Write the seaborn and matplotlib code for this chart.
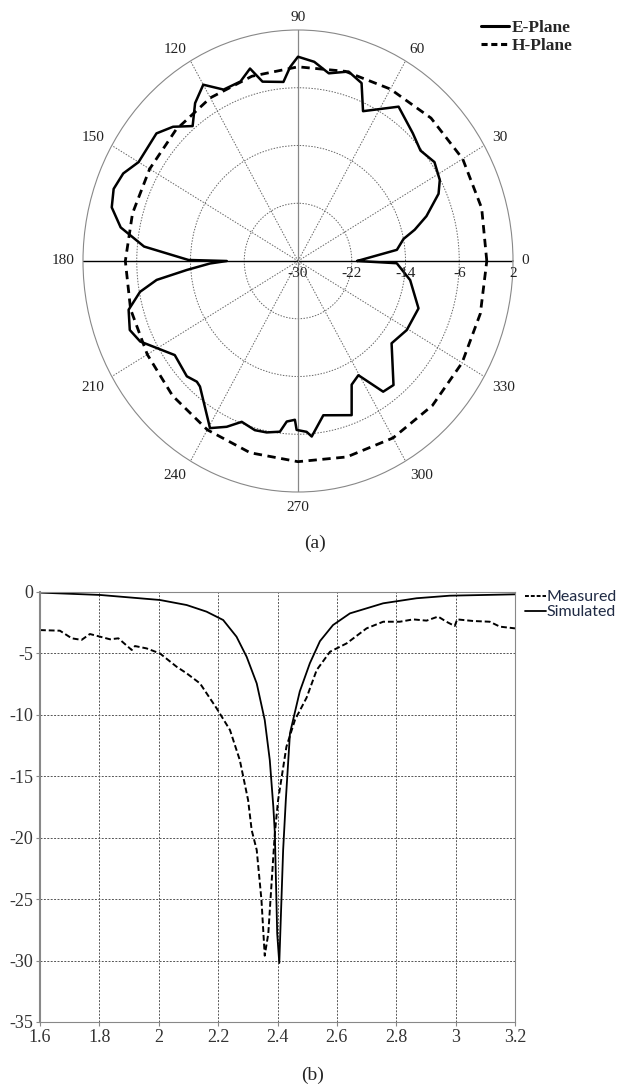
import numpy as np
import matplotlib
matplotlib.use('Agg')
import matplotlib.pyplot as plt
import matplotlib.transforms as mtransforms
from matplotlib.lines import Line2D
import seaborn as sns

# (a) radiation pattern, dB vs angle (deg)
e_theta = [0, 6, 11, 14, 18, 24, 28, 34, 40, 46, 55, 65, 69, 74, 80, 85, 90, 92.5,
           95, 102, 105, 109, 115, 120, 125, 130, 135, 140, 150, 155, 160, 165, 170,
           175, 179.5, 180, 181.5, 184.3, 187.1, 190.3, 195, 200.9, 205.4, 215.4,
           224, 228, 230, 240.5, 245.2, 249.4, 254.7, 258.9, 263.5, 265.7, 268.8,
           269.5, 273.1, 274.8, 280, 290.5, 295, 299.6, 305, 309.6, 320.7, 329.4,
           339.9, 351, 358.8, 360]
e_db = [-21.2, -15.2, -14.0, -12.1, -9.9, -7.1, -6.1, -5.5, -6.2, -5.4, -3.9, -7.1,
        -3.6, -2.7, -3.6, -2.3, -1.7, -3.1, -5.1, -4.6, -2.4, -3.7, -3.8, -1.8, -3.3,
        -5.6, -3.7, -2.5, -2.6, -1.3, -0.8, -1.3, -3.2, -7.0, -13.7, -19.4, -16.9,
        -13.4, -8.8, -6.1, -3.9, -3.2, -4.0, -7.5, -7.0, -7.5, -7.3, -3.4, -4.7,
        -6.2, -5.7, -5.8, -6.2, -7.7, -8.0, -6.6, -6.3, -5.6, -8.3, -7.2, -11.1,
        -11.8, -7.9, -7.7, -12.0, -11.2, -10.9, -13.1, -15.3, -21.2]

h_theta = list(range(0, 361, 15))
h_db = [-1.9, -1.7, -1.7, -2.0, -2.5, -2.8, -3.1, -3.5, -3.9, -4.3, -4.5, -4.5, -4.3,
        -4.2, -4.1, -3.6, -3.0, -2.5, -2.2, -1.9, -1.7, -1.7, -1.8, -1.9, -1.9]

angle_ticks = list(range(0, 360, 30))
ring_ticks = [-22, -14, -6]
radial_labels = ['-30', '-22', '-14', '-6', '2']
radial_vals = [-30, -22, -14, -6, 2]

# (b) return loss vs frequency (GHz)
meas_f = [1.6, 1.667, 1.707, 1.74, 1.768, 1.836, 1.864, 1.909, 1.92, 1.959, 2.004,
          2.06, 2.094, 2.139, 2.195, 2.24, 2.273, 2.301, 2.313, 2.33, 2.346, 2.357,
          2.369, 2.38, 2.391, 2.402, 2.43, 2.459, 2.498, 2.532, 2.577, 2.633, 2.7,
          2.756, 2.812, 2.857, 2.902, 2.941, 2.969, 2.997, 3.005, 3.059, 3.115,
          3.149, 3.2]
meas_db = [-3.1, -3.15, -3.77, -3.9, -3.42, -3.85, -3.77, -4.72, -4.4, -4.59, -5.0,
           -6.08, -6.62, -7.44, -9.47, -11.24, -13.68, -16.94, -19.38, -21.0, -25.08,
           -29.6, -27.8, -23.7, -19.65, -16.94, -12.6, -10.4, -8.6, -6.35, -4.86,
           -4.18, -2.96, -2.42, -2.42, -2.23, -2.33, -2.0, -2.42, -2.77, -2.23,
           -2.36, -2.42, -2.82, -2.96]
sim_f = [1.6, 1.802, 2.004, 2.094, 2.161, 2.217, 2.262, 2.296, 2.33, 2.357, 2.374,
         2.386, 2.391, 2.399, 2.406, 2.419, 2.428, 2.442, 2.475, 2.509, 2.543, 2.587,
         2.644, 2.756, 2.868, 2.98, 3.2]
sim_db = [-0.05, -0.24, -0.65, -1.06, -1.6, -2.28, -3.64, -5.27, -7.44, -10.42,
          -13.68, -17.5, -19.6, -27.8, -30.2, -21.0, -16.94, -11.5, -8.1, -5.8, -4.0,
          -2.69, -1.74, -0.92, -0.51, -0.3, -0.19]
x_ticks = [1.6, 1.8, 2.0, 2.2, 2.4, 2.6, 2.8, 3.0, 3.2]
x_labels = ['1.6', '1.8', '2', '2.2', '2.4', '2.6', '2.8', '3', '3.2']
y_ticks = [0, -5, -10, -15, -20, -25, -30, -35]

sns.set_style('white')
plt.rcParams['font.family'] = ['Liberation Serif', 'DejaVu Serif']
plt.rcParams['axes.unicode_minus'] = False

W, H = 617, 1090
fig = plt.figure(figsize=(W / 100, H / 100), dpi=100)

# ---- polar pattern ----
ax = fig.add_axes([83 / W, 1 - 492 / H, 430 / W, 462 / H], projection='polar')
sns.lineplot(x=np.deg2rad(h_theta), y=h_db, ax=ax, sort=False, estimator=None,
             color='k', lw=2.0, linestyle=(0, (3, 2)))
sns.lineplot(x=np.deg2rad(e_theta), y=e_db, ax=ax, sort=False, estimator=None,
             color='k', lw=1.8)
ax.set_aspect('auto')
ax.set_theta_zero_location('E')
ax.set_ylim(-30, 2)
ax.set_xticks(np.deg2rad(angle_ticks))
ax.set_xticklabels([])
ax.set_yticks(ring_ticks)
ax.set_yticklabels([])
ax.set_xlabel('')
ax.set_ylabel('')
ax.grid(True, ls=(0, (1.5, 1.5)), color='#666666', lw=0.7)
ax.spines['polar'].set_color('#888888')
ax.spines['polar'].set_linewidth(0.8)
ax.axvline(0, color='k', lw=1.0, zorder=1)
ax.axvline(np.pi, color='k', lw=1.0, zorder=1)
ax.axvline(np.pi / 2, color='#888888', lw=0.9, zorder=1)
ax.axvline(3 * np.pi / 2, color='#888888', lw=0.9, zorder=1)

for a in angle_ticks:
    c, s = np.cos(np.deg2rad(a)), np.sin(np.deg2rad(a))
    ha = 'left' if c > 0.1 else ('right' if c < -0.1 else 'center')
    va = 'baseline' if s > 0.1 else ('top' if s < -0.1 else 'center')
    ax.text(np.deg2rad(a), 3.3, str(a), ha=ha, va=va, fontsize=11,
            color='#222222', clip_on=False)

off = mtransforms.ScaledTranslation(0, -4 / 72, fig.dpi_scale_trans)
for v, lab in zip(radial_vals, radial_labels):
    ax.text(0, v, lab, ha='center', va='top', fontsize=11, color='#222222',
            transform=ax.transData + off, clip_on=False)

h1 = [Line2D([], [], color='k', lw=2.2),
      Line2D([], [], color='k', lw=2.2, linestyle=(0, (2, 1.2)))]
fig.legend(h1, ['E-Plane', 'H-Plane'], loc='upper left',
           bbox_to_anchor=(481 / W, 1 - 20 / H), frameon=False, borderpad=0,
           borderaxespad=0, handlelength=1.6, handletextpad=0.15,
           labelspacing=0.1, prop={'family': 'Liberation Serif',
                                   'weight': 'bold', 'size': 12.5})

fig.text(315 / W, 1 - 543 / H, '(a)', ha='center', va='center', fontsize=14)

# ---- return loss ----
ax2 = fig.add_axes([40 / W, 1 - 1022 / H, 475 / W, 430 / H])
sns.lineplot(x=meas_f, y=meas_db, ax=ax2, sort=False, estimator=None,
             color='k', lw=1.4, linestyle=(0, (3, 1.5)))
sns.lineplot(x=sim_f, y=sim_db, ax=ax2, sort=False, estimator=None,
             color='k', lw=1.3)
ax2.set_xlim(1.6, 3.2)
ax2.set_ylim(-35, 0)
ax2.set_xticks(x_ticks)
ax2.set_xticklabels(x_labels)
ax2.set_yticks(y_ticks)
ax2.set_yticklabels([str(v) for v in y_ticks])
ax2.set_xlabel('')
ax2.set_ylabel('')
ax2.grid(True, ls=(0, (2, 1.5)), color='#555555', lw=0.7)
for sp in ax2.spines.values():
    sp.set_visible(True)
    sp.set_color('#888888')
    sp.set_linewidth(0.8)
ax2.spines['left'].set_linewidth(1.5)
ax2.tick_params(direction='out', length=3, width=0.8, color='#888888',
                labelsize=13, labelcolor='#333333', pad=2,
                bottom=True, left=True)

h2 = [Line2D([], [], color='k', lw=1.4, linestyle=(0, (2, 1))),
      Line2D([], [], color='k', lw=1.3)]
fig.legend(h2, ['Measured', 'Simulated'], loc='upper left',
           bbox_to_anchor=(525 / W, 1 - 590 / H), frameon=False, borderpad=0,
           borderaxespad=0, handlelength=1.3, handletextpad=0.05,
           labelspacing=0.05, labelcolor='#1f2a44',
           prop={'family': 'Lato', 'size': 11.5})

fig.text(313 / W, 1 - 1075 / H, '(b)', ha='center', va='center', fontsize=14)

fig.savefig('out.png', dpi=100)
